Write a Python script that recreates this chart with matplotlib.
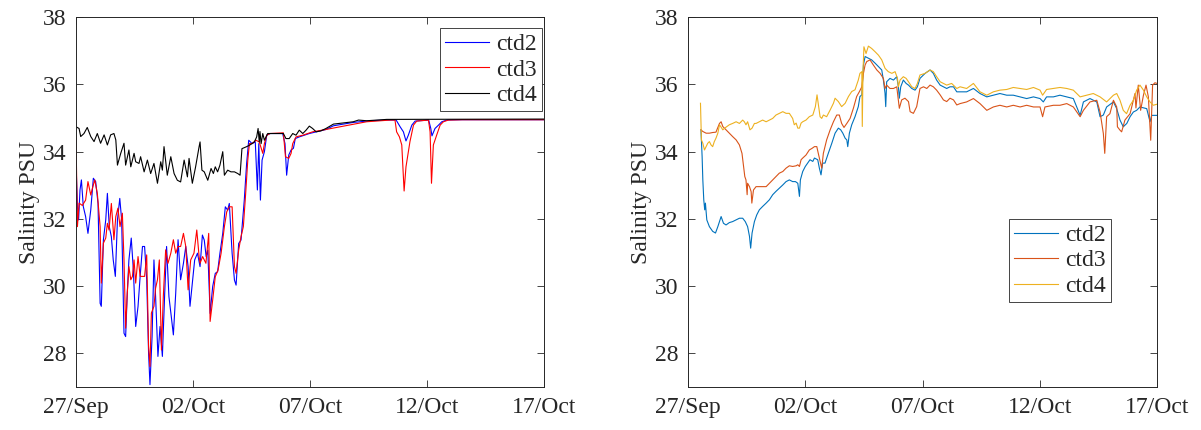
import matplotlib
matplotlib.use("Agg")
import matplotlib.pyplot as plt
import matplotlib.dates as mdates
import numpy as np
import pandas as pd

START = pd.Timestamp("2019-09-27")

# ---- left panel: days since 27/Sep and salinity (PSU) ----
L_CTD2_DAY = [0.00, 0.06, 0.11, 0.17, 0.23, 0.31, 0.41, 0.51, 0.63, 0.74, 0.84, 0.94, 1.03, 1.08, 1.17, 1.27,
              1.34, 1.42, 1.51, 1.59, 1.68, 1.77, 1.87, 1.95, 2.05, 2.12, 2.19, 2.26, 2.36, 2.45, 2.55, 2.65,
              2.74, 2.84, 2.93, 3.02, 3.10, 3.16, 3.25, 3.33, 3.40, 3.50, 3.59, 3.69, 3.79, 3.87, 3.97, 4.07,
              4.16, 4.26, 4.36, 4.47, 4.59, 4.69, 4.79, 4.87, 4.97, 5.07, 5.19, 5.30, 5.40, 5.48, 5.56, 5.63,
              5.73, 5.84, 5.95, 6.05, 6.15, 6.27, 6.38, 6.48, 6.55, 6.67, 6.77, 6.84, 6.95, 7.05, 7.19, 7.29,
              7.38, 7.52, 7.66, 7.75, 7.81, 7.88, 7.95, 8.05, 8.15, 8.29, 8.83, 8.93, 9.00, 9.09, 9.19, 9.29,
              9.37, 9.54, 9.97, 10.68, 11.00, 11.85, 12.56, 13.28, 13.68, 13.85, 13.99, 14.10, 14.20, 14.35,
              14.49, 15.07, 15.16, 15.21, 15.34, 15.49, 15.63, 15.84, 16.50, 20.00]
L_CTD2_SAL = [33.66, 32.37, 31.97, 32.86, 33.16, 32.37, 32.07, 31.57, 32.27, 33.21, 33.11, 32.46, 29.49, 29.40, 31.38, 31.97,
              32.76, 31.77, 31.47, 30.78, 30.29, 31.97, 32.61, 31.97, 28.60, 28.50, 29.79, 30.78, 31.43, 30.48, 28.80, 29.40,
              30.29, 31.18, 31.18, 30.19, 28.01, 27.07, 28.50, 30.78, 29.69, 27.91, 28.80, 27.91, 29.79, 31.18, 29.69, 29.10,
              28.55, 29.79, 31.38, 30.19, 30.68, 31.18, 30.58, 29.40, 30.09, 30.78, 30.98, 30.58, 31.52, 31.37, 30.88, 31.07,
              29.19, 29.99, 30.38, 30.43, 30.98, 31.57, 32.36, 32.26, 32.46, 30.98, 30.18, 30.03, 31.27, 31.37, 32.56, 33.65,
              34.34, 34.24, 34.29, 32.86, 34.24, 32.56, 33.75, 34.00, 34.49, 34.54, 34.54, 34.24, 33.30, 33.90, 34.05, 34.10,
              34.39, 34.44, 34.54, 34.66, 34.77, 34.87, 34.92, 34.94, 34.94, 34.74, 34.59, 34.32, 34.49, 34.79,
              34.91, 34.94, 34.69, 34.47, 34.69, 34.79, 34.89, 34.94, 34.95, 34.95]

L_CTD3_DAY = [0.00, 0.06, 0.13, 0.27, 0.41, 0.51, 0.63, 0.70, 0.80, 0.91, 1.03, 1.08, 1.17, 1.27, 1.34, 1.41,
              1.51, 1.62, 1.70, 1.79, 1.88, 1.98, 2.05, 2.12, 2.19, 2.26, 2.34, 2.41, 2.48, 2.55, 2.65, 2.74,
              2.84, 2.93, 3.02, 3.10, 3.16, 3.22, 3.33, 3.40, 3.48, 3.56, 3.65, 3.73, 3.83, 3.93, 4.05, 4.16,
              4.26, 4.36, 4.47, 4.59, 4.69, 4.79, 4.90, 5.04, 5.16, 5.26, 5.30, 5.41, 5.55, 5.67, 5.73, 5.84,
              5.95, 6.07, 6.20, 6.34, 6.44, 6.55, 6.67, 6.77, 6.84, 6.95, 7.05, 7.15, 7.24, 7.34, 7.41, 7.52,
              7.69, 7.83, 7.98, 8.05, 8.15, 8.29, 8.86, 8.95, 9.09, 9.19, 9.26, 9.40, 9.69, 10.11, 10.68, 11.28,
              12.42, 13.42, 13.63, 13.70, 13.82, 13.92, 14.02, 14.10, 14.27, 14.42, 14.56, 15.06, 15.13, 15.19,
              15.27, 15.41, 15.56, 15.70, 15.91, 16.50, 20.00]
L_CTD3_SAL = [34.40, 31.77, 32.47, 32.40, 32.56, 33.11, 32.71, 32.91, 33.16, 32.76, 31.77, 30.09, 31.28, 31.43, 31.87, 31.67,
              32.46, 31.38, 32.07, 32.32, 31.77, 32.17, 30.78, 28.75, 29.79, 30.58, 30.19, 30.29, 30.78, 30.09, 30.88, 30.29,
              30.29, 30.29, 30.93, 28.21, 27.61, 29.20, 29.40, 29.94, 30.19, 30.78, 28.10, 29.69, 31.08, 30.68, 30.98, 31.38,
              30.98, 31.18, 31.18, 31.57, 31.18, 29.89, 30.78, 30.98, 31.67, 30.88, 30.68, 30.88, 30.68, 31.57, 28.95, 29.59,
              30.28, 30.48, 30.98, 31.77, 32.21, 32.36, 32.36, 30.58, 30.38, 31.07, 31.47, 31.77, 32.66, 33.75, 34.24, 34.24,
              34.34, 34.29, 33.95, 34.24, 34.49, 34.54, 34.56, 33.85, 33.80, 33.95, 34.24, 34.44, 34.49, 34.59, 34.66, 34.74,
              34.89, 34.94, 34.94, 34.59, 34.44, 34.20, 32.83, 33.55, 34.30, 34.79, 34.91, 34.94, 34.59, 33.06,
              34.20, 34.49, 34.79, 34.89, 34.94, 34.95, 34.95]

L_CTD4_DAY = [0.00, 0.13, 0.20, 0.34, 0.48, 0.63, 0.77, 0.91, 1.05, 1.20, 1.34, 1.48, 1.62, 1.70, 1.77, 1.91,
              2.05, 2.12, 2.26, 2.34, 2.48, 2.55, 2.69, 2.76, 2.91, 3.05, 3.19, 3.33, 3.48, 3.62, 3.69, 3.76,
              3.90, 4.05, 4.19, 4.33, 4.47, 4.62, 4.76, 4.83, 4.97, 5.11, 5.26, 5.30, 5.38, 5.48, 5.63, 5.77,
              5.87, 5.95, 6.05, 6.15, 6.27, 6.34, 6.48, 6.62, 6.77, 6.91, 7.01, 7.09, 7.26, 7.41, 7.52, 7.62,
              7.72, 7.78, 7.83, 7.86, 7.91, 7.98, 8.05, 8.19, 8.69, 8.86, 8.97, 9.11, 9.26, 9.40, 9.54, 9.69,
              9.83, 9.97, 10.11, 10.26, 10.47, 10.68, 11.00, 11.85, 12.07, 12.42, 13.28, 20.00]
L_CTD4_SAL = [34.74, 34.69, 34.45, 34.54, 34.72, 34.45, 34.30, 34.54, 34.25, 34.50, 34.20, 34.50, 34.54, 34.35, 33.60, 33.95,
              34.25, 33.60, 34.05, 33.55, 33.95, 33.70, 33.65, 33.85, 33.40, 33.75, 33.35, 33.65, 33.06, 33.70, 33.45, 34.15,
              33.30, 33.85, 33.35, 33.15, 33.10, 33.75, 33.25, 33.80, 33.06, 33.55, 34.15, 34.29, 33.45, 33.40, 33.15, 33.50,
              33.35, 33.55, 33.40, 33.60, 34.00, 33.30, 33.45, 33.40, 33.40, 33.35, 33.30, 34.09, 34.14, 34.19, 34.24, 34.29,
              34.44, 34.69, 34.29, 34.60, 34.24, 34.54, 34.34, 34.54, 34.54, 34.54, 34.39, 34.39, 34.54, 34.49, 34.64, 34.54,
              34.64, 34.76, 34.69, 34.59, 34.62, 34.69, 34.82, 34.89, 34.94, 34.92, 34.96, 34.97]

# ---- right panel ----
R_CTD2_DAY = [0.55, 0.60, 0.63, 0.67, 0.71, 0.74, 0.80, 0.91, 1.05, 1.17, 1.27, 1.34, 1.41, 1.51, 1.62, 1.76,
              1.90, 2.05, 2.19, 2.33, 2.44, 2.54, 2.62, 2.67, 2.73, 2.83, 2.93, 3.04, 3.18, 3.33, 3.47, 3.61,
              3.75, 3.89, 4.04, 4.18, 4.32, 4.46, 4.58, 4.68, 4.75, 4.79, 4.89, 5.00, 5.10, 5.20, 5.32, 5.39,
              5.53, 5.60, 5.67, 5.74, 5.84, 5.98, 6.13, 6.27, 6.41, 6.51, 6.60, 6.70, 6.77, 6.81, 6.88, 6.98,
              7.12, 7.26, 7.33, 7.41, 7.48, 7.55, 7.69, 7.83, 7.98, 8.12, 8.26, 8.33, 8.40, 8.43, 8.47, 8.61,
              8.76, 8.90, 8.97, 9.01, 9.07, 9.18, 9.30, 9.40, 9.54, 9.68, 9.78, 9.89, 10.11, 10.32, 10.46, 10.60,
              10.75, 10.89, 11.03, 11.17, 11.32, 11.46, 11.88, 12.17, 12.45, 12.74, 13.02, 13.30, 13.59, 13.87,
              14.16, 14.44, 14.73, 15.01, 15.15, 15.29, 15.58, 15.86, 16.15, 16.43, 16.72, 16.86, 17.14, 17.43,
              17.57, 17.71, 17.85, 18.14, 18.28, 18.42, 18.56, 18.71, 18.85, 18.99, 19.13, 19.27, 19.56, 19.70,
              19.77, 19.99]
R_CTD2_SAL = [34.65, 33.85, 33.16, 32.57, 32.27, 32.47, 31.97, 31.77, 31.63, 31.58, 31.77, 31.92, 32.07, 31.87, 31.82, 31.89,
              31.92, 31.97, 32.02, 32.02, 31.92, 31.77, 31.48, 31.13, 31.58, 31.92, 32.12, 32.27, 32.37, 32.47, 32.57, 32.72,
              32.82, 32.91, 33.01, 33.11, 33.16, 33.11, 33.11, 33.06, 32.67, 33.16, 33.41, 33.56, 33.66, 33.76, 33.71, 33.81,
              33.76, 33.51, 33.31, 33.66, 33.66, 33.95, 34.25, 34.55, 34.70, 34.65, 34.55, 34.40, 34.35, 34.15, 34.55, 34.80,
              35.04, 35.34, 35.64, 35.69, 36.58, 36.83, 36.78, 36.73, 36.63, 36.53, 36.43, 36.13, 35.74, 35.34, 36.08, 36.18,
              36.13, 36.23, 35.93, 35.59, 35.93, 36.13, 36.03, 35.98, 35.88, 35.83, 35.93, 36.18, 36.33, 36.43, 36.33, 36.13,
              35.98, 35.93, 35.88, 35.93, 35.93, 35.78, 35.78, 35.88, 35.73, 35.63, 35.68, 35.73, 35.68, 35.68,
              35.63, 35.58, 35.63, 35.58, 35.48, 35.63, 35.63, 35.68, 35.63, 35.58, 35.08, 35.48, 35.58, 35.48,
              35.04, 35.09, 35.33, 35.48, 35.28, 34.94, 34.74, 34.84, 35.04, 35.18, 35.23, 35.33, 35.28, 34.89,
              35.08, 35.08]

R_CTD3_DAY = [0.55, 0.63, 0.77, 0.91, 1.05, 1.19, 1.34, 1.41, 1.48, 1.62, 1.76, 1.90, 2.05, 2.19, 2.30, 2.37,
              2.42, 2.47, 2.52, 2.54, 2.62, 2.69, 2.72, 2.79, 2.90, 3.04, 3.18, 3.33, 3.47, 3.61, 3.75, 3.89,
              4.04, 4.18, 4.32, 4.46, 4.61, 4.68, 4.75, 4.82, 4.89, 5.03, 5.17, 5.29, 5.39, 5.49, 5.57, 5.67,
              5.70, 5.77, 5.91, 6.06, 6.20, 6.34, 6.45, 6.55, 6.65, 6.77, 6.91, 7.05, 7.19, 7.31, 7.41, 7.48,
              7.55, 7.62, 7.76, 7.90, 8.05, 8.19, 8.33, 8.40, 8.47, 8.61, 8.76, 8.90, 9.01, 9.11, 9.25, 9.40,
              9.47, 9.61, 9.75, 9.89, 10.04, 10.18, 10.32, 10.46, 10.60, 10.75, 10.89, 11.03, 11.17, 11.32, 11.46, 11.60,
              11.88, 12.17, 12.45, 12.74, 13.02, 13.30, 13.59, 13.87, 14.16, 14.44, 14.73, 15.01, 15.12, 15.22,
              15.58, 15.86, 16.15, 16.43, 16.72, 16.86, 17.14, 17.43, 17.57, 17.71, 17.77, 17.85, 17.99, 18.14,
              18.28, 18.31, 18.42, 18.49, 18.63, 18.85, 18.99, 19.06, 19.10, 19.20, 19.30, 19.42, 19.53, 19.63,
              19.73, 19.81, 19.91, 20.00]
R_CTD3_SAL = [34.65, 34.60, 34.55, 34.55, 34.57, 34.58, 34.84, 34.89, 34.75, 34.65, 34.55, 34.45, 34.35, 34.20, 33.95, 33.56,
              33.26, 33.16, 32.72, 33.06, 32.96, 32.81, 32.47, 32.86, 32.96, 32.96, 32.96, 32.96, 33.06, 33.16, 33.26, 33.36,
              33.41, 33.51, 33.58, 33.56, 33.58, 33.61, 33.56, 33.76, 33.81, 33.90, 34.05, 34.10, 34.15, 34.15, 33.90, 33.61,
              33.51, 33.95, 34.35, 34.65, 34.89, 35.09, 35.09, 34.84, 34.72, 34.84, 34.99, 35.29, 35.64, 35.79, 35.93, 36.33,
              36.58, 36.68, 36.73, 36.58, 36.43, 36.33, 36.18, 35.88, 35.98, 35.88, 35.88, 35.93, 35.29, 35.54, 35.59, 35.49,
              35.19, 35.14, 35.34, 35.88, 35.93, 35.88, 35.98, 35.93, 35.83, 35.69, 35.54, 35.49, 35.59, 35.54, 35.39, 35.43,
              35.48, 35.58, 35.43, 35.23, 35.33, 35.38, 35.33, 35.38, 35.33, 35.38, 35.33, 35.33, 35.04, 35.33,
              35.38, 35.38, 35.43, 35.33, 35.04, 35.23, 35.48, 35.53, 35.18, 34.54, 33.95, 35.04, 35.13, 35.53,
              35.33, 34.74, 34.64, 34.59, 34.94, 35.13, 35.53, 35.73, 35.30, 35.98, 35.23, 35.68, 35.98, 35.63,
              34.34, 35.98, 36.05, 36.03]

R_CTD4_DAY = [0.53, 0.57, 0.63, 0.70, 0.77, 0.84, 0.91, 0.98, 1.05, 1.12, 1.19, 1.27, 1.34, 1.41, 1.48, 1.62,
              1.76, 1.90, 2.05, 2.19, 2.33, 2.40, 2.47, 2.54, 2.64, 2.73, 2.83, 2.90, 3.04, 3.18, 3.33, 3.47,
              3.61, 3.75, 3.89, 4.04, 4.18, 4.32, 4.46, 4.53, 4.61, 4.68, 4.75, 4.82, 4.89, 5.03, 5.17, 5.32,
              5.43, 5.50, 5.56, 5.63, 5.70, 5.77, 5.91, 6.06, 6.20, 6.27, 6.41, 6.55, 6.70, 6.84, 6.98, 7.12,
              7.26, 7.33, 7.41, 7.43, 7.46, 7.50, 7.59, 7.69, 7.83, 7.98, 8.12, 8.26, 8.40, 8.54, 8.69, 8.83,
              8.93, 8.97, 9.04, 9.18, 9.30, 9.40, 9.54, 9.68, 9.78, 9.89, 10.11, 10.32, 10.46, 10.60, 10.75, 10.89,
              11.03, 11.24, 11.46, 11.60, 11.88, 12.17, 12.45, 12.74, 13.02, 13.30, 13.59, 13.87, 14.16, 14.44,
              14.73, 15.01, 15.12, 15.29, 15.58, 15.86, 16.15, 16.43, 16.72, 17.00, 17.28, 17.57, 17.85, 18.14,
              18.28, 18.42, 18.56, 18.70, 18.85, 18.99, 19.13, 19.27, 19.42, 19.56, 19.70, 19.84, 19.99]
R_CTD4_SAL = [35.44, 34.35, 34.25, 34.05, 34.15, 34.25, 34.30, 34.20, 34.15, 34.30, 34.40, 34.55, 34.80, 34.73, 34.65, 34.73,
              34.80, 34.84, 34.89, 34.84, 34.94, 34.89, 34.80, 34.89, 34.65, 34.70, 34.84, 34.84, 34.89, 34.94, 34.89, 34.94,
              34.99, 35.09, 35.14, 35.19, 35.14, 35.14, 34.99, 34.80, 34.85, 34.70, 34.70, 34.85, 34.89, 34.94, 35.04, 35.09,
              35.34, 35.69, 35.39, 35.04, 34.99, 35.09, 35.04, 35.24, 35.44, 35.59, 35.49, 35.34, 35.44, 35.64, 35.79, 35.84,
              36.13, 36.33, 36.38, 34.75, 36.38, 37.12, 36.92, 37.14, 37.07, 36.97, 36.87, 36.73, 36.48, 36.38, 36.33, 36.38,
              36.18, 35.93, 36.13, 36.23, 36.18, 36.08, 35.93, 35.88, 36.03, 36.28, 36.33, 36.43, 36.38, 36.23, 36.08, 36.03,
              35.98, 36.03, 35.88, 35.93, 35.88, 36.03, 35.78, 35.68, 35.78, 35.83, 35.85, 35.91, 35.88, 35.85,
              35.91, 35.83, 35.68, 35.85, 35.88, 35.91, 35.88, 35.83, 35.63, 35.68, 35.73, 35.63, 35.48, 35.68,
              35.73, 35.53, 35.23, 35.13, 35.38, 35.53, 35.83, 35.98, 35.83, 35.63, 35.48, 35.38, 35.41]

LABELS = ["ctd2", "ctd3", "ctd4"]
Y_TICKS = [28, 30, 32, 34, 36, 38]
X_TICK_DAYS = [0, 5, 10, 15, 20]

AX_COLOR = "#262626"
FONT = "Liberation Serif"


def to_time(days):
    return START + pd.to_timedelta(np.asarray(days), unit="D")


def style(ax, legend_kw):
    ax.set_xlim(START, START + pd.Timedelta(days=20))
    ax.set_ylim(27, 38)
    ax.set_yticks(Y_TICKS)
    ax.set_xticks(to_time(X_TICK_DAYS))
    ax.xaxis.set_major_formatter(mdates.DateFormatter("%d/%b"))
    ax.tick_params(direction="in", top=True, right=True, length=5, width=0.6,
                   colors=AX_COLOR, labelsize=17, pad=7)
    for s in ax.spines.values():
        s.set_color(AX_COLOR)
        s.set_linewidth(0.7)
    for lab in ax.get_xticklabels() + ax.get_yticklabels():
        lab.set_fontfamily(FONT)
    ax.set_ylabel("Salinity PSU", fontsize=17, fontfamily=FONT, color=AX_COLOR, labelpad=2)
    leg = ax.legend(prop={"family": FONT, "size": 17}, fancybox=False, framealpha=1,
                    edgecolor=AX_COLOR, handlelength=1.85, handletextpad=0.3,
                    labelspacing=0.17, borderpad=0.22, borderaxespad=0, **legend_kw)
    leg.get_frame().set_linewidth(0.6)
    for t in leg.get_texts():
        t.set_color(AX_COLOR)


fig = plt.figure(figsize=(12.01, 4.30), dpi=100)
ax1 = fig.add_axes([0.0633, 0.100, 0.3897, 0.860])
ax2 = fig.add_axes([0.5729, 0.100, 0.3905, 0.860])

ax1.plot(to_time(L_CTD2_DAY), L_CTD2_SAL, color="#0000ff", lw=0.8, label=LABELS[0])
ax1.plot(to_time(L_CTD3_DAY), L_CTD3_SAL, color="#ff0000", lw=0.8, label=LABELS[1])
ax1.plot(to_time(L_CTD4_DAY), L_CTD4_SAL, color="#000000", lw=0.8, label=LABELS[2])
style(ax1, {"loc": "upper right", "bbox_to_anchor": (0.996, 0.970)})

ax2.plot(to_time(R_CTD2_DAY), R_CTD2_SAL, color="#0072BD", lw=0.8, label=LABELS[0])
ax2.plot(to_time(R_CTD3_DAY), R_CTD3_SAL, color="#D95319", lw=0.8, label=LABELS[1])
ax2.plot(to_time(R_CTD4_DAY), R_CTD4_SAL, color="#EDB120", lw=0.8, label=LABELS[2])
style(ax2, {"loc": "upper left", "bbox_to_anchor": (0.684, 0.454)})

fig.savefig("out.png", dpi=100)
